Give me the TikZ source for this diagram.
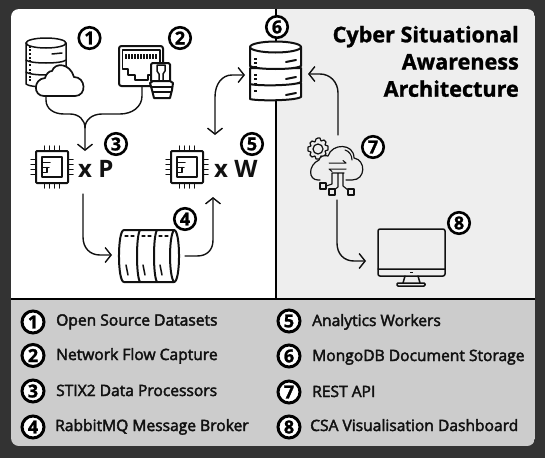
\documentclass[tikz,border=0pt]{standalone}
\usepackage{fontspec}
\setmainfont{Open Sans}
\newfontfamily\medfont[FakeBold=2.6]{Open Sans}
\newfontfamily\heavyfont[FakeBold=1.2]{Open Sans Bold}
\usetikzlibrary{arrows.meta}
\definecolor{frame}{HTML}{333333}
\definecolor{rightp}{HTML}{EEEEEE}
\definecolor{legendp}{HTML}{CCCCCC}
\definecolor{ink}{HTML}{111111}
\tikzset{
  conn/.style={draw=ink,line width=1.4pt,line cap=round,line join=round},
  ar/.style={conn,-{Straight Barb[length=6pt,width=15pt,line width=1.4pt]}},
  dar/.style={conn,{Straight Barb[length=6pt,width=15pt,line width=1.4pt]}-{Straight Barb[length=6pt,width=15pt,line width=1.4pt]}},
  ic/.style={draw=ink,line width=1.5pt,line cap=round,line join=round},
  icb/.style={draw=ink,line width=2pt,line cap=round,line join=round},
  num/.style={circle,draw=black,fill=white,line width=2.6pt,minimum size=21.5pt,inner sep=0pt,font=\heavyfont\fontsize{18}{18}\selectfont},
  lnum/.style={num,line width=3pt,minimum size=22pt,font=\heavyfont\fontsize{18}{18}\selectfont},
  leg/.style={anchor=base west,inner sep=0pt,text=ink,font=\medfont\fontsize{15.6}{16}\selectfont},
  mul/.style={anchor=base west,inner sep=0pt,text=ink,font=\bfseries\fontsize{24}{24}\selectfont},
  ttl/.style={anchor=base east,inner sep=0pt,text=black,font=\heavyfont\fontsize{21.6}{24}\selectfont}
}
\newcommand{\chipicon}[2]{%
 \begin{scope}[shift={(#1,#2)}]
  \foreach \k in {-7.5,-2.5,2.5,7.5}{
   \draw[ic] (\k,-21)--(\k,-16) (\k,16)--(\k,21) (-21,\k)--(-16,\k) (16,\k)--(21,\k);}
  \draw[icb,rounded corners=1pt] (-16,-16) rectangle (16,16);
  \draw[ic] (-10,-10) rectangle (10,10);
  \draw[ic] (-10,-4.5)--(-2,-4.5) (-10,0.5)--(-3,0.5) (-5,0.5)--(-5,5.5)--(-10,5.5);
 \end{scope}}
\begin{document}
\begin{tikzpicture}[x=1pt,y=-1pt]
\useasboundingbox (0,0) rectangle (545,458);
\fill[frame] (0,0) rectangle (545,458);
% panels
\begin{scope}
 \clip[rounded corners=8pt] (11,9) rectangle (535,446);
 \fill[white] (11,9) rectangle (276,299);
 \fill[rightp] (276,9) rectangle (535,299);
 \fill[legendp] (11,299) rectangle (535,446);
 \draw[black,line width=2pt] (276,9)--(276,299) (11,299)--(535,299);
\end{scope}
% title
\node[ttl] (t1) at (519,42.3) {Cyber Situational};
\node[ttl] (t2) at (519,69.5) {Awareness};
\node[ttl] (t3) at (519,96.7) {Architecture};
% DB 1
\foreach \y in {72,60}{ \draw[ic,fill=white] (26,\y)--(26,\y+12) .. controls (30,\y+16) and (62,\y+16) .. (66,\y+12)--(66,\y)--cycle;}
\draw[ic,fill=white] (26,43)--(26,60) .. controls (30,64) and (62,64) .. (66,60)--(66,43)--cycle;
\draw[ic,fill=white] (46,43) ellipse [x radius=20,y radius=5];
\draw[ic] (52,54)--(62,53);
\foreach \y in {46,49,53,57,60,64,69,72,76,79}{\fill[ink] (29,\y) rectangle (31,\y+1.5);}
% cloud 1
\draw[icb,line width=1.7pt,fill=white] (44,96) .. controls (33,96) and (33,79) .. (45,78)
 .. controls (46,74) and (49,71) .. (52,71) .. controls (55,62) and (70,63) .. (74,77)
 .. controls (86,77) and (87,96) .. (75,96) -- cycle;
% icon 2
\draw[icb,fill=white,rounded corners=2.5pt] (119,46) rectangle (163,86);
\draw[ic,fill=white] (122.5,50)--(160,50)--(160,69)--(153,69)--(153,75)--(148,75)--(148,80)--(135,80)--(135,75)--(128,75)--(128,69)--(122.5,69)--cycle;
\foreach \x in {126,129,...,156}{\draw[ink,line width=1.2pt] (\x,54)--(\x,59);}
\draw[icb,fill=white,rounded corners=1.5pt] (151,63) rectangle (170,82);
\draw[ic,fill=white] (157,65)--(165,65)--(165,71)--(163,74)--(163,82)--(159,82)--(159,74)--(157,71)--cycle;
\draw[icb,fill=white] (150,83)--(153,81)--(170,81)--(173,83)--(172,90)--(170,98)--(154,98)--(152,90)--cycle;
\draw[icb] (152,87)--(172,87) (153,92)--(171,92);
% chips
\chipicon{52}{167}
\chipicon{187}{167}
\node[mul] (xp) at (78,177.7) {x P};
\node[mul] (xw) at (214,177.7) {x W};
% barrel
\draw[icb,fill=white] (124,230)--(174,230) .. controls (180.7,230) and (180.7,282) .. (174,282)--(124,282) .. controls (117.3,282) and (117.3,230) .. (124,230)--cycle;
\draw[icb] (174,230) .. controls (168.7,236) and (168.7,276) .. (174,282);
\draw[icb] (157,230) .. controls (153,236) and (153,276) .. (157,282);
\draw[icb] (140,230) .. controls (136,236) and (136,276) .. (140,282);
\foreach \x in {125,142,159}{\draw[ic,line width=1.3pt] (\x,236)--(\x+3,236) (\x+6,236)--(\x+9,236); \draw[ic,line width=1.5pt] (\x+1,265)--(\x+3,275);}
% DB 6
\foreach \y in {83,68}{ \draw[icb,fill=white] (250,\y)--(250,\y+16) .. controls (256,\y+18) and (295,\y+18) .. (301,\y+14)--(301,\y)--cycle;}
\draw[icb,fill=white] (250,47)--(250,66) .. controls (256,70) and (295,70) .. (301,66)--(301,47)--cycle;
\draw[icb,fill=white] (275.5,47) ellipse [x radius=25.5,y radius=5.5];
\foreach \y in {58,62,66,74,78,83,90}{\fill[ink] (254,\y) rectangle (256.5,\y+2.4);}
\draw[icb] (286,62)--(296,60) (286,79)--(296,77) (286,95)--(296,93);
% cloud 7: gear behind the cloud
\draw[ic,line width=1.2pt] (318,138) -- (320,138) -- (321,141) -- (324,140) -- (326,142) -- (325,145) -- (328,146) -- (328,150) -- (325,151) -- (326,154) -- (323,157) -- (321,156) -- (320,159) -- (316,159) -- (315,156) -- (312,157) -- (310,155) -- (311,152) -- (308,151) -- (308,147) -- (311,146) -- (310,143) -- (312,141) -- (315,142) -- (316,139) -- cycle;
\draw[ic,line width=1.2pt] (318,149) circle [radius=5];
\draw[ic,line width=1.2pt,fill=rightp] (320,180) -- (318,180) .. controls (308,180) and (308,165) .. (319,160)
 .. controls (320,156) and (324,155) .. (328,156) .. controls (332,143) and (354,143) .. (354,158)
 .. controls (366,160) and (366,180) .. (352,180) -- (346,180);
\draw[ic,line width=1.1pt] (345,150) .. controls (349,151) and (352,155) .. (352,160);
\draw[ic,line width=1pt] (329,163)--(346,163) (343,160.5)--(346,163) (329,169)--(346,169) (329,169)--(332,171.5);
\draw[ic,line width=1.1pt] (332,173)--(344,173) (332,173)--(332,184)--(326,186) (338,173)--(338,187)--(334,190) (343,173)--(343,186)--(348,190);
\draw[ic,fill=rightp,line width=1.2pt] (320,183) rectangle (326,189);
\draw[ic,fill=rightp,line width=1.2pt] (329,189) rectangle (335,195);
\draw[ic,fill=rightp,line width=1.2pt] (348,189) rectangle (354,195);
% monitor
\draw[ic,rounded corners=2pt] (378,229) rectangle (445,276);
\draw[ic] (378,269)--(445,269) (405,276)--(403,283) (418,276)--(420,283);
\draw[ic,rounded corners=1pt] (397,283) rectangle (425,286);
\draw[ink,line width=1.3pt] (410,272.5)--(413,272.5);
% connector end points
\coordinate (a1) at (46,96);
\coordinate (a2) at (142,86);
\coordinate (b3) at (85,151);
\coordinate (c3) at (83,194);
\coordinate (b4) at (112,255);
\coordinate (c4) at (185,256);
\coordinate (b5) at (213,197);
\coordinate (c5) at (215,135);
\coordinate (b6l) at (245,75);
\coordinate (b6r) at (308,74);
\coordinate (c7) at (338,135);
\coordinate (d7) at (337,200);
\coordinate (b8) at (366,261);
% connectors
\draw[conn] (a1)--(46,100) .. controls (46,109) and (54,114) .. (64,114) -- (70,114) .. controls (79,114) and (85,120) .. (85,128);
\draw[ar] (a2)--(142,96) .. controls (142,107) and (132,114) .. (120,114) -- (102,114) .. controls (92,114) and (85,120) .. (85,128) -- (b3);
\draw[ar] (c3)--(83,237) .. controls (83,248) and (90,255) .. (100,255) -- (b4);
\draw[ar] (c4)--(197,256) .. controls (207,256) and (213,250) .. (213,240) -- (b5);
\draw[dar] (c5)--(215,97) .. controls (215,84) and (222,75) .. (232,75) -- (b6l);
\draw[ar] (c7)--(338,93) .. controls (338,82) and (330,74) .. (320,74) -- (b6r);
\draw[ar] (d7)--(337,243) .. controls (337,254) and (344,261) .. (354,261) -- (b8);
% number badges
\node[num] (n1) at (89.5,38) {1};
\node[num] (n2) at (180,38) {2};
\node[num] (n3) at (116,144) {3};
\node[num] (n4) at (185,219) {4};
\node[num] (n5) at (252,144) {5};
\node[num] (n6) at (277,27) {6};
\node[num] (n7) at (373,147) {7};
\node[num] (n8) at (459,223) {8};
% legend
\node[lnum] (l1) at (33,322) {1};
\node[lnum] (l2) at (33,355.5) {2};
\node[lnum] (l3) at (33,391) {3};
\node[lnum] (l4) at (33,427) {4};
\node[lnum] (l5) at (289,321) {5};
\node[lnum] (l6) at (289,356) {6};
\node[lnum] (l7) at (289,392) {7};
\node[lnum] (l8) at (289,427) {8};
\node[leg] (x1) at (56,325.6) {Open Source Datasets};
\node[leg] (x2) at (56,360) {Network Flow Capture};
\node[leg] (x3) at (56,396) {STIX2 Data Processors};
\node[leg] (x4) at (55,431) {RabbitMQ Message Broker};
\node[leg] (x5) at (312,326) {Analytics Workers};
\node[leg] (x6) at (312,361) {MongoDB Document Storage};
\node[leg] (x7) at (312,397) {REST API};
\node[leg] (x8) at (310,431) {CSA Visualisation Dashboard};
\end{tikzpicture}
\end{document}
